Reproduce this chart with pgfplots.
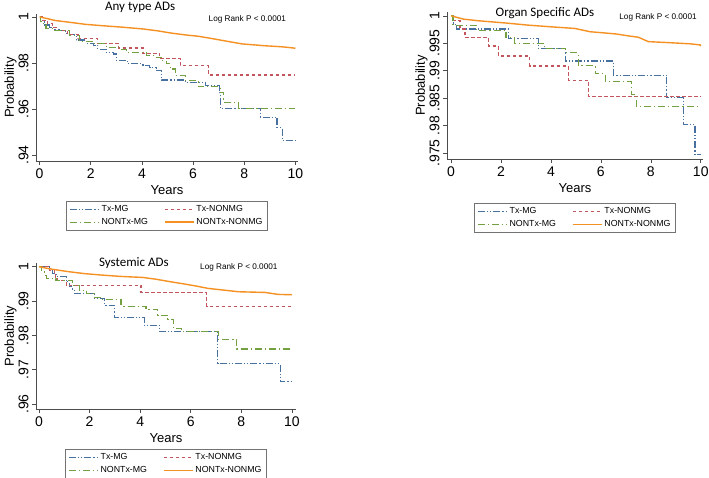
\documentclass[border=0pt]{standalone}
\usepackage{fontspec}
\setmainfont{Liberation Sans}
\newfontfamily\calfont{Carlito}
\usepackage{pgfplots}
\pgfplotsset{compat=1.18}
\definecolor{kmblue}{RGB}{70,112,160}
\definecolor{kmred}{RGB}{195,85,95}
\definecolor{kmgreen}{RGB}{115,160,65}
\definecolor{kmorange}{RGB}{245,145,35}
\pgfplotsset{
  kmaxis/.style={
    scale only axis,
    axis x line*=bottom, axis y line*=left,
    axis line style={-, black!70, line width=0.6pt},
    tick align=outside, major tick length=4pt,
    tick style={black!70, line width=0.6pt},
    xtick={0,2,4,6,8,10},
    tick label style={font=\fontsize{14}{14}\selectfont},
    yticklabel style={rotate=90, anchor=south},
    label style={font=\fontsize{13}{14}\selectfont},
    xlabel={Years}, ylabel={Probability},
    ylabel shift=-5pt,
    clip=false,
    legend columns=2,
    legend style={font=\fontsize{8.8}{10}\selectfont, draw=black!55, line width=0.5pt,
      /tikz/every even column/.append style={column sep=14pt}, cells={anchor=west},
      inner xsep=3pt, inner ysep=2.5pt, row sep=1pt},
    legend image code/.code={\draw[##1] (0pt,0pt) -- (29pt,0pt);},
    /pgf/number format/assume math mode=true,
  },
  sblue/.style={kmblue, line width=1.1pt, dash pattern=on 7pt off 2pt on 1.2pt off 2pt on 1.2pt off 2pt, const plot},
  sred/.style={kmred, line width=1.1pt, dash pattern=on 3.5pt off 2.5pt, const plot},
  sgreen/.style={kmgreen, line width=1.1pt, dash pattern=on 7pt off 3pt on 1.2pt off 3pt, const plot},
  sorange/.style={kmorange, line width=1.4pt},
}
\begin{document}
\begin{tikzpicture}
\useasboundingbox (0,0) rectangle (709pt,477pt);
% ---------------- Panel 1: Any type ADs
\begin{axis}[kmaxis, at={(36pt,316pt)}, anchor=south west, width=262pt, height=147pt,
  xmin=-0.14, xmax=10.1, ymin=0.9374, ymax=1.0013,
  ytick={0.94,0.96,0.98,1}, yticklabels={.94,.96,.98,1},
  legend style={at={(0.5,-0.272)}, anchor=north}]
\addplot[sblue] coordinates {(0,1) (0.05,0.998) (0.2,0.9965) (0.38,0.9955) (0.6,0.9945) (0.78,0.994) (1.0,0.993) (1.17,0.9923) (1.43,0.99) (1.82,0.9886) (2.1,0.9878) (2.28,0.986) (2.6,0.9846) (2.9,0.9839) (2.99,0.981) (3.45,0.9796) (4.04,0.9788) (4.3,0.978) (4.56,0.9767) (4.76,0.9726) (5.69,0.9716) (6.48,0.9701) (7.02,0.967) (7.07,0.9603) (8.63,0.9564) (9.28,0.952) (9.48,0.9465) (10,0.9465)};
\addlegendentry{Tx-MG}
\addplot[sred] coordinates {(0,1) (0.1,0.9985) (0.3,0.997) (0.5,0.9955) (0.65,0.9941) (1.1,0.9923) (1.5,0.9905) (2.28,0.9885) (3.1,0.9865) (4.04,0.9843) (4.69,0.982) (5.5,0.9788) (6.6,0.9748) (10,0.9748)};
\addlegendentry{Tx-NONMG}
\addplot[sgreen] coordinates {(0,1) (0.05,0.998) (0.15,0.9965) (0.25,0.995) (0.6,0.994) (1.17,0.9919) (1.56,0.9894) (2.08,0.9883) (2.6,0.9868) (3.1,0.9858) (3.4,0.9846) (4.17,0.9832) (4.56,0.9825) (4.76,0.981) (4.95,0.9796) (5.1,0.9774) (5.3,0.9745) (5.69,0.9723) (6.2,0.9697) (7.07,0.9672) (7.2,0.963) (7.78,0.9603) (10,0.9603)};
\addlegendentry{NONTx-MG}
\addplot[sorange] coordinates {(0,1) (0.3,0.9993) (0.6,0.9985) (1.17,0.9977) (1.8,0.9968) (2.47,0.9962) (3.2,0.9956) (4.04,0.9948) (4.6,0.994) (5.15,0.993) (5.7,0.9922) (6.22,0.9916) (6.8,0.9905) (7.4,0.9893) (7.91,0.9883) (8.8,0.9875) (9.4,0.9871) (9.7,0.9868) (10,0.9864)};
\addlegendentry{NONTx-NONMG}
\node[font=\calfont\fontsize{13}{14}\selectfont] at (axis cs:3.93,1.0043) {Any type ADs};
\node[font=\fontsize{8.2}{9}\selectfont] at (axis cs:8.12,0.99913) {Log Rank P < 0.0001};
\end{axis}
% ---------------- Panel 2: Organ Specific ADs
\begin{axis}[kmaxis, at={(447pt,318pt)}, anchor=south west, width=256pt, height=147pt,
  xmin=-0.16, xmax=10.09, ymin=0.9739, ymax=1.0007,
  ytick={0.975,0.98,0.985,0.99,0.995,1}, yticklabels={.975,.98,.985,.99,.995,1},
  legend style={at={(0.5,-0.30)}, anchor=north}]
\addplot[sblue] coordinates {(0,1) (0.1,0.9985) (0.23,0.9976) (2.3,0.99585) (3.5,0.994) (4.57,0.99177) (6.5,0.9892) (8.64,0.98506) (9.3,0.98018) (9.77,0.9747) (10,0.9747)};
\addlegendentry{Tx-MG}
\addplot[sred] coordinates {(0,1) (0.09,0.9991) (0.36,0.9976) (0.56,0.996) (1.5,0.9945) (1.9,0.99268) (3.16,0.99085) (4.7,0.98829) (5.5,0.98524) (10,0.98524)};
\addlegendentry{Tx-NONMG}
\addplot[sgreen] coordinates {(0,1) (0.08,0.9983) (1.03,0.9974) (2.2,0.996) (2.55,0.995) (3.76,0.9941) (4.6,0.9933) (5.1,0.9909) (5.77,0.98945) (6.17,0.9881) (7.23,0.98567) (7.44,0.98341) (10,0.98341)};
\addlegendentry{NONTx-MG}
\addplot[sorange] coordinates {(0,1) (0.5,0.9994) (1.1,0.9991) (2.17,0.9987) (3.1,0.9983) (4.0,0.998) (4.96,0.9977) (5.57,0.9971) (6.1,0.9969) (6.6,0.9967) (7.17,0.9963) (7.5,0.9961) (7.9,0.9953) (8.77,0.9951) (9.57,0.9949) (9.97,0.9947) (10,0.9945)};
\addlegendentry{NONTx-NONMG}
\node[font=\calfont\fontsize{13}{14}\selectfont] at (axis cs:3.76,1.00055) {Organ Specific ADs};
\node[font=\fontsize{8.2}{9}\selectfont] at (axis cs:8.29,0.99964) {Log Rank P < 0.0001};
\end{axis}
% ---------------- Panel 3: Systemic ADs
\begin{axis}[kmaxis, at={(36pt,68pt)}, anchor=south west, width=260pt, height=146pt,
  xmin=-0.12, xmax=10.16, ymin=0.95854, ymax=1.0011,
  ytick={0.96,0.97,0.98,0.99,1}, yticklabels={.96,.97,.98,.99,1},
  legend style={at={(0.5,-0.274)}, anchor=north}]
\addplot[sblue] coordinates {(0,1) (0.4,0.9995) (0.54,0.998) (0.67,0.9971) (1.07,0.99563) (1.2,0.99417) (1.33,0.9932) (1.4,0.99223) (2.19,0.99078) (2.58,0.98883) (2.98,0.98524) (4.16,0.98301) (4.76,0.98107) (7.06,0.97184) (9.53,0.9665) (10,0.9665)};
\addlegendentry{Tx-MG}
\addplot[sred] coordinates {(0,1) (0.4,0.999) (0.6,0.998) (0.65,0.9966) (0.74,0.9959) (1.07,0.99466) (4.03,0.99243) (6.63,0.98854) (10,0.98854)};
\addlegendentry{Tx-NONMG}
\addplot[sgreen] coordinates {(0,1) (0.1,0.9985) (0.21,0.99757) (0.28,0.9966) (0.67,0.9959) (1.33,0.99466) (1.6,0.9932) (1.86,0.99223) (2.19,0.9911) (2.5,0.99049) (3.24,0.98854) (4.23,0.98757) (4.69,0.98592) (5.09,0.9846) (5.31,0.982) (5.64,0.98107) (7.09,0.97893) (7.82,0.97602) (10,0.97602)};
\addlegendentry{NONTx-MG}
\addplot[sorange] coordinates {(0,1) (0.5,0.9993) (1.2,0.99854) (1.8,0.998) (2.5,0.99757) (3.2,0.9972) (4.1,0.99689) (4.6,0.9964) (5.2,0.99563) (5.77,0.99495) (6.2,0.9944) (6.69,0.99369) (7.3,0.9932) (7.88,0.99272) (8.93,0.99252) (9.46,0.99194) (10,0.99185)};
\addlegendentry{NONTx-NONMG}
\node[font=\calfont\fontsize{13}{14}\selectfont] at (axis cs:3.75,1.0011) {Systemic ADs};
\node[font=\fontsize{8.2}{9}\selectfont] at (axis cs:7.9,0.9999) {Log Rank P < 0.0001};
\end{axis}
\end{tikzpicture}
\end{document}
